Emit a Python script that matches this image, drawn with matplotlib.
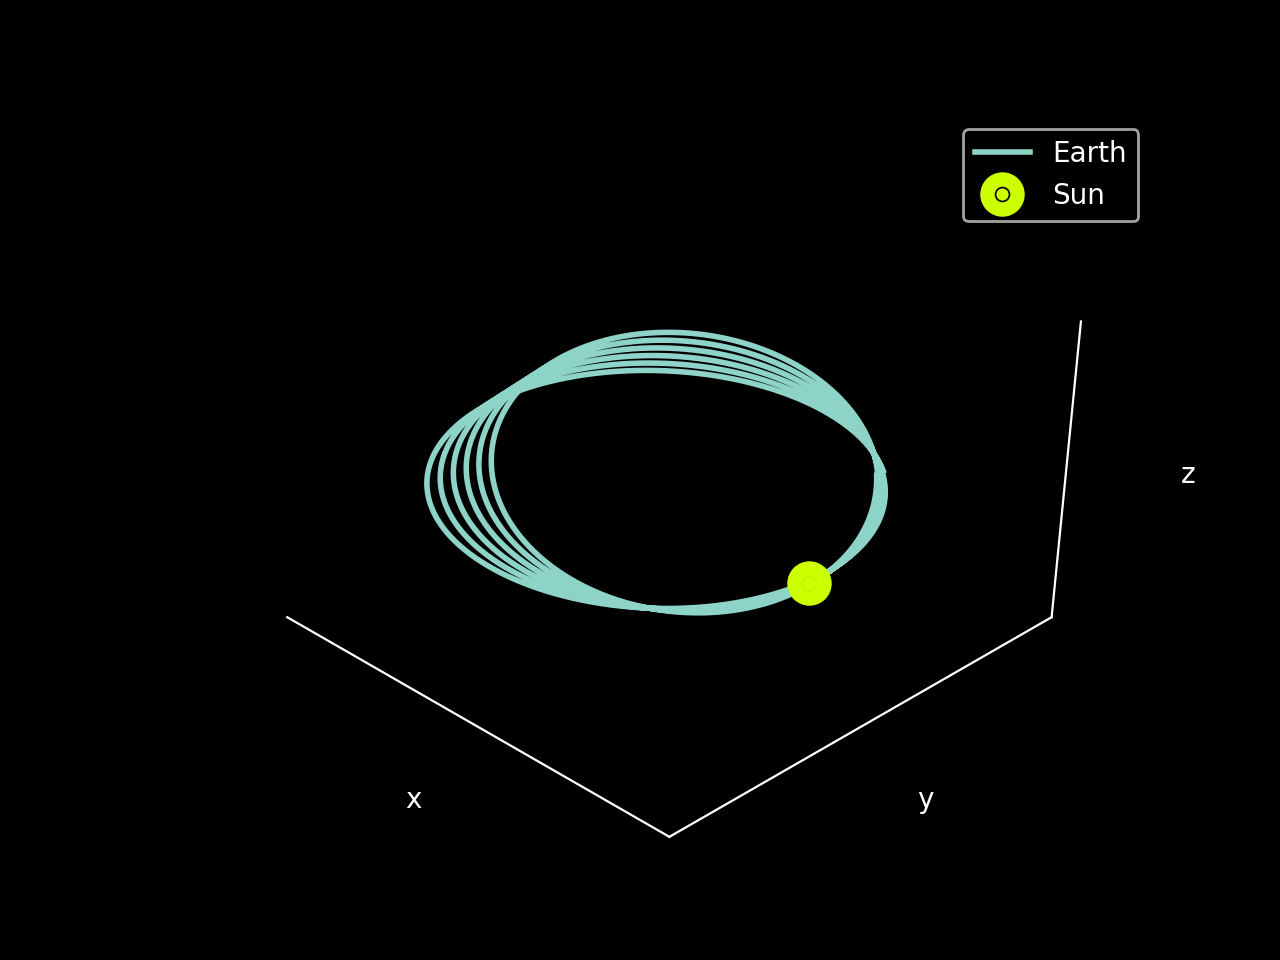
import numpy as np
import matplotlib.pyplot as plt
from matplotlib.lines import Line2D
from matplotlib.legend_handler import HandlerTuple

plt.style.use("dark_background")

##### Values #####
# axes run 0..1 in x and y, -1..1 in z, orbit lies in the z = 0 plane
orbit_center = [0.503, 0.499]     # centre of the middle loop
semi_axes = [0.442, 0.373]        # a, b of the middle loop
tilt_deg = -34.2                  # direction of the long axis
sun_pos = [0.9235, 0.4205, 0.0]
n_loops = 6
shear_per_loop = 0.066            # loops lean a bit more each turn ...
shear_dir = [-0.12, 1.0]          # ... in this direction ...
shear_pivot = [0.75, 0.45]        # ... about a line through this point
start_angle_deg = 82.0            # line starts top right, runs clockwise

sun_color = "#ccff00"


##### Build the orbit track #####
t = np.radians(start_angle_deg) - np.linspace(0, 2 * np.pi * n_loops, 5000)
th = np.radians(tilt_deg)
ex = semi_axes[0] * np.cos(t)
ey = semi_axes[1] * np.sin(t)
x0 = orbit_center[0] + ex * np.cos(th) - ey * np.sin(th)
y0 = orbit_center[1] + ex * np.sin(th) + ey * np.cos(th)

# lean of each loop grows with time
w = np.array(shear_dir) / np.hypot(*shear_dir)
n = np.array([w[1], -w[0]])
dist = (x0 - shear_pivot[0]) * n[0] + (y0 - shear_pivot[1]) * n[1]
loops_done = (t[0] - t) / (2 * np.pi)
lean = shear_per_loop * (loops_done - n_loops / 2) * dist
earth_x = x0 + lean * w[0]
earth_y = y0 + lean * w[1]
earth_z = np.zeros_like(earth_x)


##### Plot #####
fig = plt.figure(figsize=(6.4, 4.8), dpi=200)
ax = fig.add_subplot(projection="3d")
# keep the full subplot box (no square 3d box)
ax.apply_aspect = lambda position=None: None

ax.plot(earth_x, earth_y, earth_z, color="C0", lw=2, label="Earth")
ax.plot([sun_pos[0]], [sun_pos[1]], [sun_pos[2]], "o", color=sun_color, ms=15)
ax.plot([sun_pos[0]], [sun_pos[1]], [sun_pos[2]], "o", mfc="none", mec="#c2f200", mew=0.5, ms=5)

ax.set_xlim(0, 1)
ax.set_ylim(0, 1)
ax.set_zlim(-1, 1)
ax.set_box_aspect((1, 1, 1), zoom=0.95)
ax.view_init(elev=45, azim=-45)

ax.grid(False)
for axis in (ax.xaxis, ax.yaxis, ax.zaxis):
    axis.set_pane_color((0, 0, 0, 0))
ax.set_xticks([])
ax.set_yticks([])
ax.set_zticks([])
ax.set_xlabel("x")
ax.set_ylabel("y")
ax.set_zlabel("z")

# legend: Earth line + Sun disc with a small ring
earth_handle = Line2D([], [], color="C0", lw=2)
sun_disc = Line2D([], [], ls="none", marker="o", color=sun_color, ms=15)
sun_ring = Line2D([], [], ls="none", marker="o", mfc="none", mec="black", mew=0.6, ms=5)
ax.legend([earth_handle, (sun_disc, sun_ring)], ["Earth", "Sun"],
          handler_map={tuple: HandlerTuple(ndivide=1)}, loc="upper right")

fig.savefig("out.png", dpi=200)
